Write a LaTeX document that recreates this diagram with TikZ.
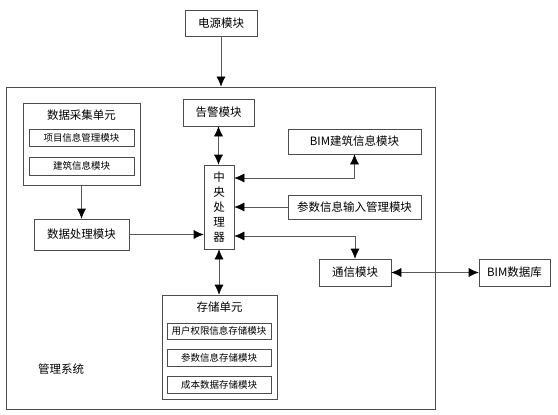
\documentclass[tikz,border=0pt]{standalone}
\usepackage{fontspec}
\setmainfont{Noto Sans CJK SC}
\usetikzlibrary{arrows.meta}

\begin{document}
\begin{tikzpicture}[x=1pt,y=-1pt,
    box/.style={draw=black!70,line width=0.6pt,inner sep=0pt,font=\fontsize{11.5}{13}\selectfont},
    subbox/.style={draw=black!70,line width=0.6pt,inner sep=0pt,minimum width=105pt,font=\fontsize{9.5}{11}\selectfont},
    link/.style={draw=black!65,line width=0.6pt,-{Latex[length=10pt,width=9pt,color=black]}},
    dlink/.style={draw=black!65,line width=0.6pt,{Latex[length=10pt,width=9pt,color=black]}-{Latex[length=10pt,width=9pt,color=black]}}]
    \useasboundingbox (0,0) rectangle (558,415);

    % Outer system frame
    \node[draw=black!70,line width=0.8pt,minimum width=429pt,minimum height=322pt] (sys) at (220.5,248) {};
    \node[font=\fontsize{11.5}{13}\selectfont] (syslabel) at (61,369) {管理系统};

    % Power and alarm
    \node[box,minimum width=72pt,minimum height=26pt] (power) at (221,23) {电源模块};
    \node[box,minimum width=71pt,minimum height=27pt] (alarm) at (218.5,112.5) {告警模块};

    % Data collection unit
    \node[box,minimum width=117pt,minimum height=82pt] (collect) at (81.5,144) {};
    \node[font=\fontsize{11.5}{13}\selectfont] (collecttitle) at (81.5,115) {数据采集单元};
    \node[subbox,minimum height=17pt] (proj) at (81.5,137.5) {项目信息管理模块};
    \node[subbox,minimum height=18pt] (bldg) at (81.5,166) {建筑信息模块};
    \node[box,minimum width=95pt,minimum height=31pt] (proc) at (81.5,234.5) {数据处理模块};

    % Central processor
    \node[box,minimum width=30pt,minimum height=84pt,align=center,font=\fontsize{11.5}{15}\selectfont] (cpu) at (219,207) {中\\央\\处\\理\\器};

    % Right side modules
    \node[box,minimum width=133pt,minimum height=25pt] (bimb) at (354.5,141.5) {BIM建筑信息模块};
    \node[box,minimum width=133pt,minimum height=24pt] (param) at (354.5,207) {参数信息输入管理模块};
    \node[box,minimum width=72pt,minimum height=27pt] (comm) at (355,272.5) {通信模块};
    \node[box,minimum width=71pt,minimum height=27pt] (bimdb) at (514.5,272.5) {BIM数据库};

    % Storage unit
    \node[box,minimum width=115pt,minimum height=104pt] (store) at (219.5,347) {};
    \node[font=\fontsize{11.5}{13}\selectfont] (storetitle) at (219.5,307) {存储单元};
    \foreach \name/\y/\h/\txt in {usr/331/16/用户权限信息存储模块,pstore/357.5/17/参数信息存储模块,cost/384.5/17/成本数据存储模块} {
        \node[subbox,minimum width=104pt,minimum height=\h pt] (\name) at (219,\y) {\txt};
    }

    % Connections
    \draw[link] (power.south) -- (power.south |- sys.north);
    \draw[dlink] (alarm.south) -- (alarm.south |- cpu.north);
    \draw[link] (collect.south) -- (proc.north);
    \draw[link] (proc.east) -- (proc.east -| cpu.west);
    \draw[dlink] (cpu.east |- 0,178) -| (bimb.south);
    \draw[link] (param.west) -- (param.west -| cpu.east);
    \draw[dlink] (cpu.east |- 0,236) -| (comm.north);
    \draw[dlink] (cpu.south) -- (cpu.south |- store.north);
    \draw[dlink] (comm.east) -- (bimdb.west);
\end{tikzpicture}
\end{document}
